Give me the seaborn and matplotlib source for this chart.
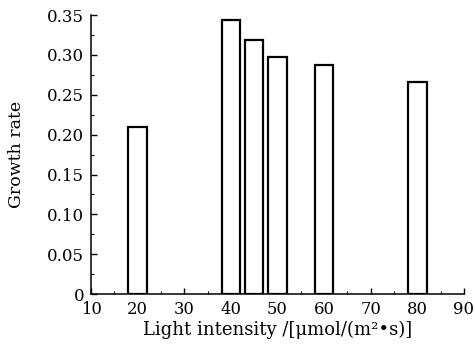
import numpy as np
import pandas as pd
import matplotlib
matplotlib.use("Agg")
import matplotlib.pyplot as plt
import seaborn as sns
from matplotlib.ticker import MultipleLocator, FuncFormatter

# values
light_intensity = [20, 40, 45, 50, 60, 80]
growth_rate = [0.21, 0.344, 0.319, 0.298, 0.287, 0.266]

df = pd.DataFrame({"light": light_intensity, "growth": growth_rate})

sns.set_style("ticks")
plt.rcParams['font.family'] = ['DejaVu Serif']
plt.rcParams['text.color'] = 'black'
plt.rcParams['axes.labelcolor'] = 'black'
plt.rcParams['xtick.color'] = 'black'
plt.rcParams['ytick.color'] = 'black'
plt.rcParams['axes.edgecolor'] = 'black'

fig = plt.figure(figsize=(4.75, 3.51), dpi=100)
ax = fig.add_axes([0.1916, 0.162, 0.785, 0.795])

sns.barplot(data=df, x="light", y="growth", native_scale=True, width=0.8,
            color="white", edgecolor="black", linewidth=1.6, errorbar=None, ax=ax)

ax.set_xlim(10, 90)
ax.set_ylim(0, 0.35)
ax.xaxis.set_major_locator(MultipleLocator(10))
ax.xaxis.set_minor_locator(MultipleLocator(5))
ax.yaxis.set_major_locator(MultipleLocator(0.05))
ax.yaxis.set_minor_locator(MultipleLocator(0.025))
ax.yaxis.set_major_formatter(FuncFormatter(lambda v, p: "0" if abs(v) < 1e-9 else f"{v:.2f}"))
ax.tick_params(which="major", direction="in", length=4.5, width=1, labelsize=12)
ax.tick_params(axis="x", which="major", pad=5, labelsize=11.8)
ax.tick_params(axis="y", which="major", pad=5)
ax.tick_params(which="minor", direction="in", length=2.5, width=0.8)

sns.despine(ax=ax)
for s in ["left", "bottom"]:
    ax.spines[s].set_linewidth(1.1)

ax.set_xlabel("Light intensity /[μmol/(m²•s)]", fontsize=13, labelpad=2)
ax.set_ylabel("Growth rate", fontsize=12.5, labelpad=16)

fig.savefig("out.png", dpi=100)
